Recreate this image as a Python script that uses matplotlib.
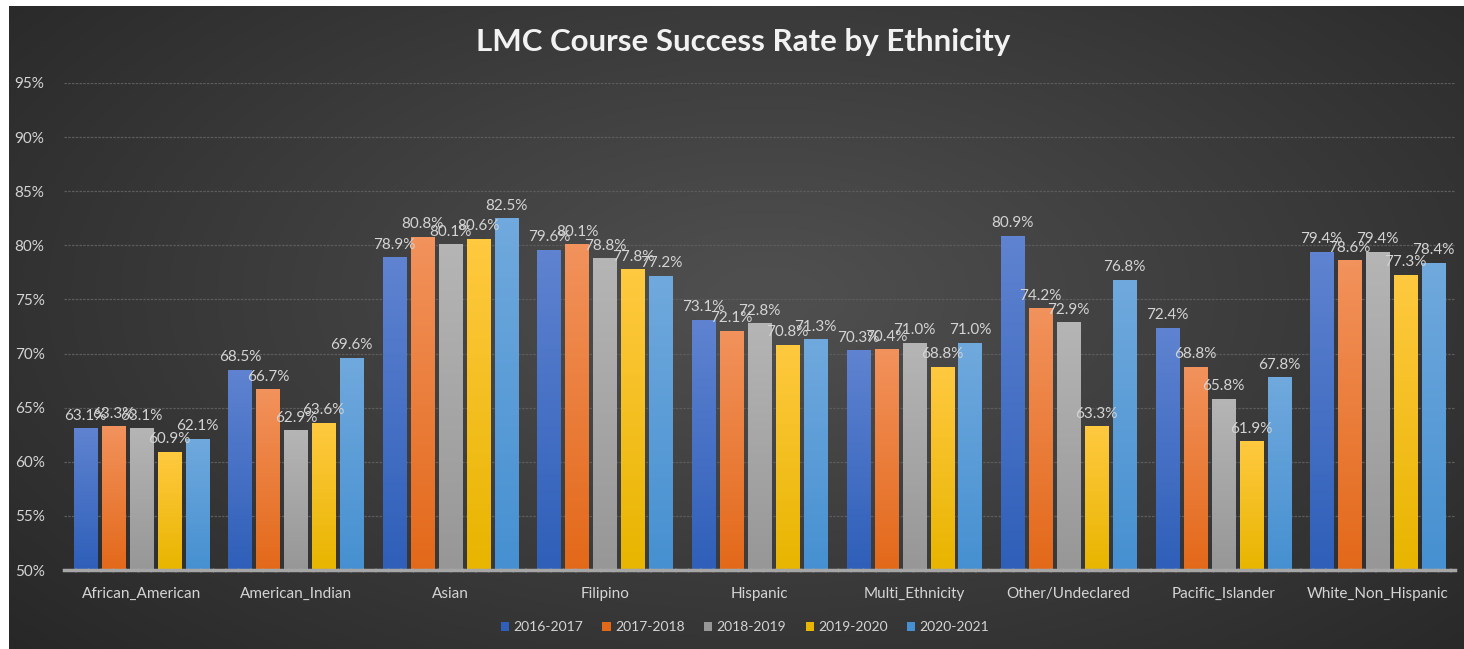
import numpy as np
import matplotlib.pyplot as plt
from matplotlib.colors import LinearSegmentedColormap

plt.rcParams['font.family'] = ['Lato', 'DejaVu Sans']

categories = ['African_American', 'American_Indian', 'Asian', 'Filipino', 'Hispanic',
              'Multi_Ethnicity', 'Other/Undeclared', 'Pacific_Islander', 'White_Non_Hispanic']
years = ['2016-2017', '2017-2018', '2018-2019', '2019-2020', '2020-2021']
y2016 = [63.1, 68.5, 78.9, 79.6, 73.1, 70.3, 80.9, 72.4, 79.4]
y2017 = [63.3, 66.7, 80.8, 80.1, 72.1, 70.4, 74.2, 68.8, 78.6]
y2018 = [63.1, 62.9, 80.1, 78.8, 72.8, 71.0, 72.9, 65.8, 79.4]
y2019 = [60.9, 63.6, 80.6, 77.8, 70.8, 68.8, 63.3, 61.9, 77.3]
y2020 = [62.1, 69.6, 82.5, 77.2, 71.3, 71.0, 76.8, 67.8, 78.4]
series = [y2016, y2017, y2018, y2019, y2020]

# (top colour, bottom colour) for each series
grads = [('#5f83d0', '#2f5fb9'),
         ('#f2925c', '#e3691a'),
         ('#b5b5b5', '#979797'),
         ('#ffc940', '#e8b500'),
         ('#70a9dd', '#4690d1')]

W, H = 1464, 649
fig = plt.figure(figsize=(W / 100, H / 100), dpi=100, facecolor='white')

# radial dark background
bg = fig.add_axes([9 / W, 0, 1 - 9 / W, 1 - 6 / H])
yy, xx = np.mgrid[0:1:300j, 0:1:700j]
r = np.sqrt(((xx - 0.52) / 0.75) ** 2 + ((yy - 0.45) / 0.9) ** 2)
shade = np.clip(1 - r, 0, 1)
bgmap = LinearSegmentedColormap.from_list('bg', ['#242424', '#4e4e4e'])
bg.imshow(shade, cmap=bgmap, aspect='auto', vmin=0, vmax=0.95, interpolation='bilinear')
bg.set_axis_off()

ax = fig.add_axes([64 / W, 1 - 570 / H, (1455 - 64) / W, (570 - 83) / H])
ax.patch.set_alpha(0)

x = np.arange(len(categories))
step = 0.181
bw = 0.149
grad = np.linspace(1, 0, 100).reshape(-1, 1)
for i, (vals, (ctop, cbot)) in enumerate(zip(series, grads)):
    pos = x + (i - 2) * step
    bars = ax.bar(pos, np.array(vals) - 50, bw, bottom=50, color=cbot, label=years[i], zorder=2)
    cmap = LinearSegmentedColormap.from_list('g%d' % i, [cbot, ctop])
    for b, v in zip(bars, vals):
        x0 = b.get_x()
        im = ax.imshow(grad, cmap=cmap, extent=[x0, x0 + bw, 50, v], aspect='auto',
                       zorder=3, vmin=0, vmax=1, origin='upper')
        im.set_clip_path(b)
        ax.annotate('%.1f%%' % v, (x0 + bw / 2, v), xytext=(0, 4), textcoords='offset points',
                    ha='center', va='bottom', fontsize=11, color='#d4d4d4', zorder=4)

ax.set_xlim(-0.5, len(categories) - 0.5)
ax.set_ylim(50, 95)
ax.set_yticks(np.arange(50, 96, 5))
ax.set_yticklabels(['%d%%' % t for t in range(50, 96, 5)])
ax.set_xticks(x)
ax.set_xticklabels(categories)
ax.tick_params(axis='both', length=0, colors='#d4d4d4', labelsize=11)
ax.tick_params(axis='x', pad=12)
ax.tick_params(axis='y', pad=14)
ax.grid(axis='y', color='#5c5c5c', linestyle=(0, (2, 1)), linewidth=0.9, zorder=0)
for s in ['top', 'right', 'left']:
    ax.spines[s].set_visible(False)
ax.spines['bottom'].set_color('#a6a6a6')
ax.spines['bottom'].set_linewidth(2.5)
ax.spines['bottom'].set_linestyle((0, (3, 0.6)))
ax.spines['bottom'].set_zorder(5)

fig.text(743 / W, 1 - 42 / H, 'LMC Course Success Rate by Ethnicity', ha='center', va='center',
         fontsize=22.5, fontweight='bold', color='#f2f2f2')

leg = ax.legend(loc='center', bbox_to_anchor=((745 - 64) / (1455 - 64), (570 - 627) / (570 - 83)),
                ncol=5, frameon=False, fontsize=10, labelcolor='#d4d4d4', handlelength=0.6,
                handleheight=0.6, handletextpad=0.3, columnspacing=1.4)

fig.savefig('out.png', dpi=100, facecolor=fig.get_facecolor())
